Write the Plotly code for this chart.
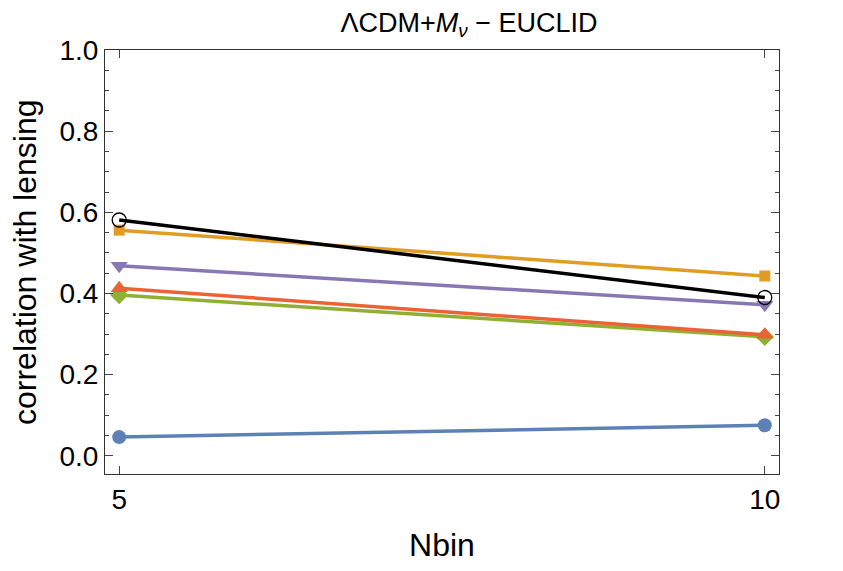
import plotly.graph_objects as go

nbin = [5, 10]
blue = [0.046, 0.075]
orange = [0.556, 0.443]
green = [0.396, 0.293]
red = [0.413, 0.298]
purple = [0.468, 0.372]
black = [0.581, 0.390]

series = [
    (blue, "#5E81B5", "circle", 14, "blue"),
    (orange, "#E19C24", "square", 11, "orange"),
    (green, "#8FB032", "diamond", 14, "green"),
    (red, "#EB6235", "triangle-up", 15, "red"),
    (purple, "#8778B3", "triangle-down", 15, "purple"),
]

fig = go.Figure()
for vals, col, sym, sz, name in series:
    fig.add_trace(go.Scatter(x=nbin, y=vals, mode="lines+markers", name=name,
                             line=dict(color=col, width=3.5),
                             marker=dict(symbol=sym, size=sz, color=col)))
fig.add_trace(go.Scatter(x=nbin, y=black, mode="lines+markers", name="black",
                         line=dict(color="black", width=3.5),
                         marker=dict(symbol="circle-open", size=14, color="black",
                                     line=dict(width=1.3))))

font = "Liberation Sans, Arial, sans-serif"
fig.update_layout(
    width=835, height=563,
    margin=dict(l=97, r=64, t=42, b=97),
    paper_bgcolor="white", plot_bgcolor="white",
    showlegend=False,
    font=dict(family=font, size=28, color="black"),
    title=dict(text="ΛCDM+<i>M</i><sub><i>ν</i></sub> − EUCLID", x=0.552, xanchor="center",
               y=0.975, yanchor="middle", font=dict(size=27)),
)
fig.add_annotation(text="correlation with lensing", textangle=-90,
                   xref="paper", yref="paper", x=-0.1187, y=0.5,
                   xanchor="center", yanchor="middle", showarrow=False,
                   font=dict(size=32, color="black"))
fig.update_xaxes(range=[4.89, 10.11], tickvals=[5, 10], ticks="inside", ticklen=8,
                 tickcolor="#444", showgrid=False, zeroline=False,
                 showline=True, linecolor="#333", linewidth=1, mirror="ticks",
                 title=dict(text="Nbin", font=dict(size=32), standoff=20),
                 tickfont=dict(size=28), automargin=False)
fig.update_yaxes(range=[-0.045, 1.0], tickvals=[0, 0.2, 0.4, 0.6, 0.8, 1.0],
                 tickformat=".1f", ticks="inside", ticklen=8, tickcolor="#444",
                 minor=dict(dtick=0.05, ticks="inside", ticklen=4, tickcolor="#444"),
                 showgrid=False, zeroline=False,
                 showline=True, linecolor="#333", linewidth=1, mirror="ticks",
                 tickfont=dict(size=28), automargin=False)

fig.write_html("out.html")
